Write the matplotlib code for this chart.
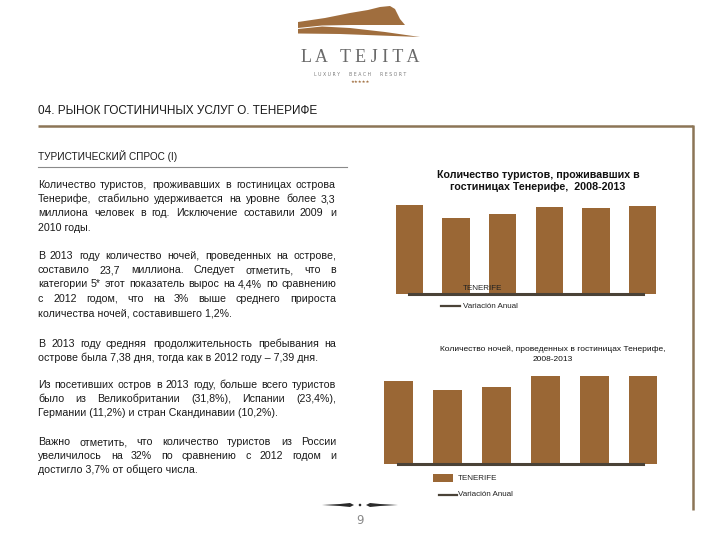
import math
import matplotlib
matplotlib.use('Agg')
import matplotlib.pyplot as plt
from matplotlib.patches import Polygon, Rectangle, Circle
from matplotlib.backends.backend_agg import get_hinting_flag

# chart data
years = ['2008', '2009', '2010', '2011', '2012', '2013']
tourists = [3.40, 2.90, 3.05, 3.32, 3.28, 3.36]      # million tourists in hotels
variacion_1 = [0, 0, 0, 0, 0, 0]
nights = [22.4, 19.9, 20.8, 23.6, 23.6, 23.7]        # million hotel nights
variacion_2 = [0, 0, 0, 0, 0, 0]

title_1 = 'Количество туристов, проживавших в\nгостиницах Тенерифе,  2008-2013'
title_2 = 'Количество ночей, проведенных в гостиницах Тенерифе,\n2008-2013'
header = '04. РЫНОК ГОСТИНИЧНЫХ УСЛУГ О. ТЕНЕРИФЕ'
subheader = 'ТУРИСТИЧЕСКИЙ СПРОС (I)'

paragraphs = [
    ['Количество туристов, проживавших в гостиницах острова',
     'Тенерифе, стабильно удерживается на уровне более 3,3',
     'миллиона человек в год. Исключение составили 2009 и',
     '2010 годы.'],
    ['В 2013 году количество ночей, проведенных на острове,',
     'составило 23,7 миллиона. Следует отметить, что в',
     'категории 5* этот показатель вырос на 4,4% по сравнению',
     'с 2012 годом, что на 3% выше среднего прироста',
     'количества ночей, составившего 1,2%.'],
    ['В 2013 году средняя продолжительность пребывания на',
     'острове была 7,38 дня, тогда как в 2012 году – 7,39 дня.'],
    ['Из посетивших остров в 2013 году, больше всего туристов',
     'было из Великобритании (31,8%), Испании (23,4%),',
     'Германии (11,2%) и стран Скандинавии (10,2%).'],
    ['Важно отметить, что количество туристов из России',
     'увеличилось на 32% по сравнению с 2012 годом и',
     'достигло 3,7% от общего числа.'],
]
para_y = [188, 259, 347, 388, 445]   # baselines of first lines
line_step = 14.2

BAR = '#9a6735'
DARK = '#4a4237'
RULE = '#8c7556'
W, H = 720, 540

fig = plt.figure(figsize=(7.2, 5.4), dpi=100)
bg = fig.add_axes([0, 0, 1, 1])
bg.set_xlim(0, W)
bg.set_ylim(H, 0)
bg.axis('off')
bg.set_zorder(10)
renderer = fig.canvas.get_renderer()

def px_axes(left, top, right, bottom):
    ax = fig.add_axes([left / W, 1 - bottom / H, (right - left) / W, (bottom - top) / H])
    ax.axis('off')
    return ax

# logo
bg.add_patch(Polygon([(298, 22), (325, 18), (350, 13), (368, 10), (380, 7), (390, 6),
                      (395, 9), (400, 19), (405, 25), (350, 25), (322, 25.5), (298, 28)],
                     closed=True, color='#a06e3e', lw=0))
bg.add_patch(Polygon([(298, 29), (322, 26.5), (350, 28), (385, 32), (420, 37),
                      (380, 35.5), (340, 34), (298, 33.5)],
                     closed=True, color='#a06e3e', lw=0))
bg.text(360, 57, 'L A   T E J I T A', ha='center', va='center',
        family='Liberation Serif', fontsize=13, color='#6a6a6a')
bg.text(360, 74, 'L U X U R Y      B E A C H      R E S O R T', ha='center', va='center',
        family='DejaVu Sans', fontsize=3.3, color='#7a7a7a')
bg.text(360, 82, '★★★★★', ha='center', va='center', fontsize=3.2, color='#a06e3e')

# headings and rules
bg.text(38, 111, header, ha='left', va='center', family='Liberation Sans',
        fontsize=8.5, color='#1a1a1a')
bg.plot([38, 693], [125.5, 125.5], color=RULE, lw=1.8, solid_capstyle='butt')
bg.plot([693, 693], [125, 510], color=RULE, lw=1.8, solid_capstyle='butt')
bg.text(38, 156, subheader, ha='left', va='center', family='Liberation Sans',
        fontsize=7.2, color='#1a1a1a')
bg.plot([38, 347], [166.5, 166.5], color='#8a8a8a', lw=0.8)

# body text, justified word by word
body_style = dict(family='Liberation Sans', fontsize=7.7, color='#1a1a1a', va='baseline')

def snap_baseline(t, y):
    # keep every word on the same pixel baseline despite different descents
    try:
        font = renderer._prepare_font(t.get_fontproperties())
        font.set_text(t.get_text(), 0, flags=get_hinting_flag())
        d = font.get_descent() / 64.0
        t.set_y(y + math.ceil(d) - d)
    except Exception:
        pass

def put_line(line, y, justify, x0=38, x1=336):
    y = round(y)
    if not justify:
        snap_baseline(bg.text(x0, y, line, ha='left', **body_style), y)
        return
    words = line.split()
    texts = [bg.text(0, y, w, ha='left', **body_style) for w in words]
    widths = [t.get_window_extent(renderer).width for t in texts]
    gap = (x1 - x0 - sum(widths)) / (len(words) - 1)
    x = x0
    for t, w in zip(texts, widths):
        t.set_x(round(x))
        snap_baseline(t, y)
        x += w + gap

for lines, y0 in zip(paragraphs, para_y):
    for i, line in enumerate(lines):
        put_line(line, y0 + i * line_step, i < len(lines) - 1)

# chart 1: tourists
ax1 = px_axes(386, 294 - 4 * 26.2, 666, 294)
ax1.bar(range(6), tourists, width=0.59, color=BAR, zorder=2)
ax1.plot(range(6), variacion_1, color=DARK, lw=2.2, clip_on=False, zorder=3)
ax1.set_xlim(-0.5, 5.5)
ax1.set_ylim(0, 4)
bg.text(538, 181, title_1, ha='center', va='center', family='Liberation Sans',
        fontweight='bold', fontsize=7.7, linespacing=1.25, color='#111111')
bg.text(463, 288.5, 'TENERIFE', ha='left', va='center', family='Liberation Sans',
        fontsize=5.8, color='#222222')
bg.plot([441, 460], [306, 306], color=DARK, lw=1.6)
bg.text(463, 306, 'Variación Anual', ha='left', va='center', family='Liberation Sans',
        fontsize=5.8, color='#222222')

# chart 2: nights
ax2 = px_axes(374, 464 - 28 * 3.713, 667.5, 464)
ax2.bar(range(6), nights, width=0.59, color=BAR, zorder=2)
ax2.plot(range(6), variacion_2, color=DARK, lw=2.2, clip_on=False, zorder=3)
ax2.set_xlim(-0.5, 5.5)
ax2.set_ylim(0, 28)
bg.text(553, 354, title_2, ha='center', va='center', family='Liberation Sans',
        fontsize=6.0, linespacing=1.6, color='#111111')
bg.add_patch(Rectangle((433, 474), 20, 8, color=BAR, lw=0))
bg.text(458, 478, 'TENERIFE', ha='left', va='center', family='Liberation Sans',
        fontsize=5.8, color='#222222')
bg.plot([439, 457], [494.5, 494.5], color=DARK, lw=1.6)
bg.text(458, 494.5, 'Variación Anual', ha='left', va='center', family='Liberation Sans',
        fontsize=5.8, color='#222222')

# footer ornament and page number
bg.add_patch(Polygon([(322, 505), (340, 504), (350, 503), (354, 505), (350, 507), (340, 506)],
                     closed=True, color='#2a2a2a', lw=0))
bg.add_patch(Polygon([(398, 505), (380, 504), (370, 503), (366, 505), (370, 507), (380, 506)],
                     closed=True, color='#2a2a2a', lw=0))
bg.add_patch(Circle((360, 505), 1.3, color='#2a2a2a', lw=0))
bg.text(360, 520, '9', ha='center', va='center', family='DejaVu Sans',
        fontsize=8.5, color='#8a8a8a')

fig.savefig('out.png', dpi=100)
